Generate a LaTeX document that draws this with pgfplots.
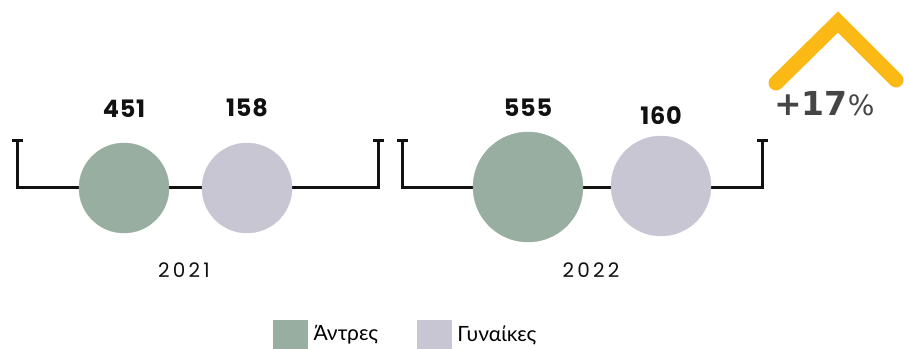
\documentclass[border=0pt]{standalone}
\usepackage{pgfplots}
\pgfplotsset{compat=1.18}
\usepackage{pgfplotstable}
\usepackage{fontspec}
\setmainfont{Poppins}
\newfontfamily\grfont{Lato}
\newfontfamily\pctfont{DejaVu Sans}

\definecolor{men}{RGB}{152,174,160}
\definecolor{women}{RGB}{200,198,211}
\definecolor{ink}{RGB}{17,17,17}
\definecolor{chev}{RGB}{251,185,22}
\definecolor{pct}{RGB}{69,69,69}

% x, y: centre of the circle; r: radius; v: value; ly: height of the value
\pgfplotstableread{
x   y   r   v    ly
124 160 45  451  239
528 161 55  555  240
}\men
\pgfplotstableread{
x   y   r   v    ly
247 160 45  158  240
661 162 50  160  232
}\women

\begin{document}
\begin{tikzpicture}
\begin{axis}[
    width=904pt, height=348pt, scale only axis,
    xmin=0, xmax=904, ymin=0, ymax=348,
    hide axis, clip=false,
    legend columns=2,
    legend cell align=left,
    legend style={at={(axis cs:270,14)}, anchor=west, draw=none, fill=none,
        font=\grfont\fontsize{21}{21}\selectfont,
        /tikz/every odd column/.append style={column sep=4pt},
        /tikz/every even column/.append style={column sep=37pt}},
]
% brackets
\addplot[forget plot, ink, line width=3pt] coordinates {(17,207) (17,160) (378,160) (378,207)};
\addplot[forget plot, ink, line width=3pt] coordinates {(12,207) (23,207)};
\addplot[forget plot, ink, line width=3pt] coordinates {(373,207) (384,207)};
\addplot[forget plot, ink, line width=3pt] coordinates {(402,207) (402,160) (762,160) (762,207)};
\addplot[forget plot, ink, line width=3pt] coordinates {(397,207) (408,207)};
\addplot[forget plot, ink, line width=3pt] coordinates {(757,207) (768,207)};

% circles
\addplot[scatter, only marks, mark=*, color=men,
    scatter/use mapped color={draw=men, fill=men},
    visualization depends on={\thisrow{r} \as \perpointmarksize},
    scatter/@pre marker code/.append style={/tikz/mark size=\perpointmarksize},
    legend image code/.code={\fill[men] (0pt,-14pt) rectangle (34pt,14pt);}]
    table[x=x, y=y, meta=v]{\men};
\addlegendentry{Άντρες}
\addplot[scatter, only marks, mark=*, color=women,
    scatter/use mapped color={draw=women, fill=women},
    visualization depends on={\thisrow{r} \as \perpointmarksize},
    scatter/@pre marker code/.append style={/tikz/mark size=\perpointmarksize},
    legend image code/.code={\fill[women] (0pt,-14pt) rectangle (34pt,14pt);}]
    table[x=x, y=y, meta=v]{\women};
\addlegendentry{Γυναίκες}

% values
\addplot[forget plot, draw=none, mark=none, nodes near coords,
    point meta=explicit symbolic,
    nodes near coords style={anchor=center, text=ink,
        font=\bfseries\fontsize{24}{24}\selectfont\addfontfeature{LetterSpace=3}}]
    table[x=x, y=ly, meta=v]{\men};
\addplot[forget plot, draw=none, mark=none, nodes near coords,
    point meta=explicit symbolic,
    nodes near coords style={anchor=center, text=ink,
        font=\bfseries\fontsize{24}{24}\selectfont\addfontfeature{LetterSpace=3}}]
    table[x=x, y=ly, meta=v]{\women};

% years
\node[text=ink, font=\fontsize{20}{20}\selectfont\addfontfeature{LetterSpace=16}] at (axis cs:184,78) {2021};
\node[text=ink, font=\fontsize{20}{20}\selectfont\addfontfeature{LetterSpace=16}] at (axis cs:591,78) {2022};

% growth marker
\draw[chev, line width=15pt, line cap=round] (axis cs:776,265) -- (axis cs:838,326) -- (axis cs:896,268);
\node[anchor=base west, inner sep=0pt, text=pct] at (axis cs:774,232)
    {\pctfont\bfseries\fontsize{33}{33}\selectfont +17\mdseries\fontsize{28}{28}\selectfont\%};
\end{axis}
\pgfresetboundingbox
\path (0,0) rectangle (904pt,348pt);
\end{tikzpicture}
\end{document}
